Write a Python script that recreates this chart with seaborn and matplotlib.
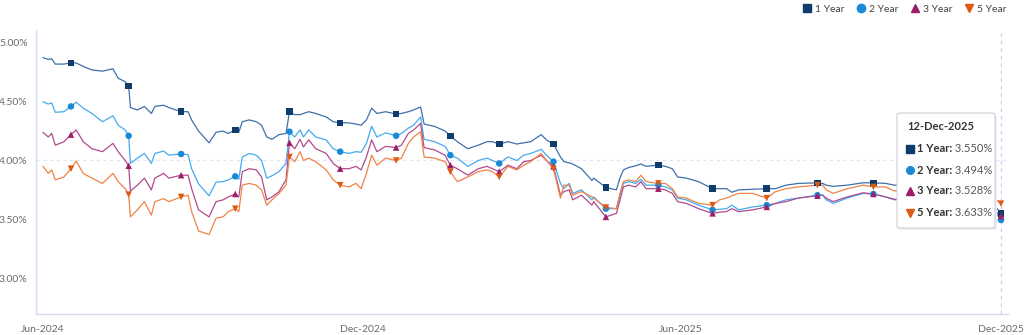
import matplotlib
matplotlib.use("Agg")
import matplotlib.pyplot as plt
from matplotlib.lines import Line2D
from matplotlib.patches import FancyBboxPatch
import seaborn as sns
import pandas as pd

# ---------------- data ----------------
dates = [
    "2024-06-12", "2024-06-15", "2024-06-17", "2024-06-19", "2024-06-24", "2024-06-28",
    "2024-07-01", "2024-07-05", "2024-07-10", "2024-07-16", "2024-07-22", "2024-07-25",
    "2024-07-29", "2024-07-31", "2024-08-01", "2024-08-05", "2024-08-09", "2024-08-13",
    "2024-08-15", "2024-08-20", "2024-08-23", "2024-08-30", "2024-09-03", "2024-09-05",
    "2024-09-09", "2024-09-15", "2024-09-19", "2024-09-23", "2024-09-26", "2024-09-30",
    "2024-10-02", "2024-10-04", "2024-10-08", "2024-10-12", "2024-10-15", "2024-10-18",
    "2024-10-21", "2024-10-25", "2024-10-29", "2024-10-31", "2024-11-03", "2024-11-06",
    "2024-11-08", "2024-11-11", "2024-11-15", "2024-11-21", "2024-11-25", "2024-11-29",
    "2024-12-04", "2024-12-08", "2024-12-11", "2024-12-14", "2024-12-17", "2024-12-20",
    "2024-12-25", "2024-12-31", "2025-01-03", "2025-01-07", "2025-01-10", "2025-01-14",
    "2025-01-16", "2025-01-22", "2025-01-28", "2025-01-31", "2025-02-04", "2025-02-10",
    "2025-02-16", "2025-02-21", "2025-02-24", "2025-02-28", "2025-03-05", "2025-03-10",
    "2025-03-14", "2025-03-18", "2025-03-24", "2025-03-27", "2025-03-31", "2025-04-04",
    "2025-04-06", "2025-04-09", "2025-04-11", "2025-04-16", "2025-04-22", "2025-04-23",
    "2025-04-30", "2025-05-06", "2025-05-08", "2025-05-10", "2025-05-13", "2025-05-17",
    "2025-05-20", "2025-05-23", "2025-05-30", "2025-06-03", "2025-06-07", "2025-06-10",
    "2025-06-15", "2025-06-22", "2025-06-30", "2025-07-04", "2025-07-08", "2025-07-11",
    "2025-07-15", "2025-07-23", "2025-07-31", "2025-08-05", "2025-08-11", "2025-08-18",
    "2025-08-29", "2025-09-01", "2025-09-03", "2025-09-07", "2025-09-15", "2025-09-24",
    "2025-09-30", "2025-10-07", "2025-10-12", "2025-10-20", "2025-10-31", "2025-11-14",
    "2025-11-28", "2025-12-05", "2025-12-08", "2025-12-12",
]

one_year = [
    4.875, 4.86, 4.865, 4.82, 4.82, 4.83,
    4.83, 4.80, 4.77, 4.76, 4.78, 4.70,
    4.67, 4.635, 4.45, 4.43, 4.46, 4.40,
    4.46, 4.47, 4.45, 4.415, 4.415, 4.345,
    4.25, 4.15, 4.24, 4.25, 4.23, 4.26,
    4.24, 4.33, 4.345, 4.33, 4.30, 4.20,
    4.18, 4.22, 4.23, 4.415, 4.39, 4.39,
    4.40, 4.415, 4.40, 4.37, 4.33, 4.32,
    4.32, 4.31, 4.30, 4.345, 4.445, 4.40,
    4.415, 4.395, 4.40, 4.415, 4.43, 4.455,
    4.31, 4.29, 4.25, 4.21, 4.16, 4.10,
    4.13, 4.16, 4.16, 4.14, 4.16, 4.14,
    4.15, 4.16, 4.22, 4.175, 4.14, 4.03,
    3.99, 3.98, 3.97, 3.93, 3.83, 3.85,
    3.77, 3.75, 3.85, 3.92, 3.94, 3.955,
    3.97, 3.95, 3.96, 3.95, 3.93, 3.86,
    3.85, 3.82, 3.76, 3.76, 3.76, 3.73,
    3.75, 3.755, 3.76, 3.76, 3.79, 3.805,
    3.81, 3.805, 3.79, 3.78, 3.79, 3.81,
    3.81, 3.805, 3.79, 3.79, 3.79, 3.79,
    3.78, 3.72, 3.62, 3.550,
]

two_year = [
    4.50, 4.48, 4.49, 4.41, 4.415, 4.46,
    4.495, 4.445, 4.40, 4.33, 4.38, 4.30,
    4.26, 4.21, 3.975, 4.02, 4.06, 3.975,
    4.06, 4.08, 4.045, 4.055, 4.05, 3.93,
    3.80, 3.70, 3.815, 3.82, 3.835, 3.865,
    3.84, 4.03, 4.06, 4.045, 4.00, 3.85,
    3.87, 3.905, 3.975, 4.245, 4.20, 4.26,
    4.20, 4.26, 4.20, 4.175, 4.10, 4.075,
    4.06, 4.075, 4.07, 4.145, 4.29, 4.20,
    4.235, 4.21, 4.23, 4.275, 4.30, 4.37,
    4.18, 4.16, 4.12, 4.045, 4.02, 3.95,
    4.00, 4.02, 4.00, 3.975, 4.03, 4.00,
    4.045, 4.06, 4.095, 4.045, 3.99, 3.805,
    3.76, 3.805, 3.72, 3.75, 3.665, 3.69,
    3.59, 3.59, 3.70, 3.805, 3.82, 3.805,
    3.84, 3.79, 3.79, 3.775, 3.75, 3.68,
    3.665, 3.62, 3.58, 3.585, 3.59, 3.62,
    3.58, 3.605, 3.62, 3.635, 3.665, 3.68,
    3.705, 3.705, 3.665, 3.635, 3.68, 3.72,
    3.715, 3.69, 3.665, 3.67, 3.67, 3.67,
    3.66, 3.62, 3.58, 3.494,
]

three_year = [
    4.24, 4.20, 4.23, 4.13, 4.16, 4.22,
    4.26, 4.16, 4.10, 4.075, 4.145, 4.075,
    4.00, 3.955, 3.74, 3.79, 3.85, 3.75,
    3.85, 3.89, 3.85, 3.875, 3.875, 3.76,
    3.58, 3.52, 3.65, 3.665, 3.69, 3.715,
    3.69, 3.905, 3.93, 3.92, 3.86, 3.665,
    3.69, 3.735, 3.835, 4.15, 4.10, 4.18,
    4.115, 4.175, 4.10, 4.06, 3.975, 3.93,
    3.93, 3.95, 3.92, 4.03, 4.175, 4.075,
    4.12, 4.11, 4.13, 4.23, 4.26, 4.315,
    4.11, 4.09, 4.045, 3.96, 3.93, 3.875,
    3.93, 3.95, 3.93, 3.905, 3.96, 3.93,
    3.99, 4.00, 4.045, 4.00, 3.95, 3.705,
    3.735, 3.75, 3.665, 3.705, 3.62, 3.65,
    3.52, 3.55, 3.66, 3.775, 3.79, 3.775,
    3.82, 3.76, 3.76, 3.75, 3.72, 3.65,
    3.635, 3.59, 3.55, 3.56, 3.565, 3.59,
    3.565, 3.58, 3.605, 3.635, 3.65, 3.68,
    3.70, 3.705, 3.68, 3.65, 3.69, 3.725,
    3.715, 3.69, 3.67, 3.68, 3.68, 3.68,
    3.67, 3.63, 3.58, 3.528,
]

five_year = [
    3.95, 3.89, 3.92, 3.835, 3.86, 3.93,
    3.995, 3.89, 3.85, 3.805, 3.89, 3.82,
    3.76, 3.71, 3.52, 3.58, 3.65, 3.535,
    3.65, 3.675, 3.65, 3.69, 3.705, 3.565,
    3.40, 3.37, 3.51, 3.52, 3.565, 3.59,
    3.565, 3.79, 3.805, 3.79, 3.75, 3.62,
    3.665, 3.72, 3.79, 4.03, 3.99, 4.075,
    4.00, 4.02, 3.99, 3.92, 3.835, 3.79,
    3.775, 3.805, 3.76, 3.89, 4.045, 3.96,
    4.02, 4.00, 4.02, 4.145, 4.20, 4.245,
    4.03, 4.02, 3.99, 3.905, 3.82, 3.86,
    3.905, 3.92, 3.905, 3.86, 3.95, 3.92,
    3.96, 3.99, 4.06, 4.00, 3.93, 3.68,
    3.79, 3.79, 3.705, 3.735, 3.69, 3.68,
    3.60, 3.59, 3.72, 3.82, 3.835, 3.82,
    3.875, 3.82, 3.805, 3.805, 3.76, 3.69,
    3.68, 3.635, 3.62, 3.665, 3.68, 3.70,
    3.72, 3.72, 3.68, 3.735, 3.76, 3.775,
    3.79, 3.79, 3.75, 3.72, 3.76, 3.79,
    3.775, 3.775, 3.74, 3.75, 3.75, 3.75,
    3.74, 3.70, 3.68, 3.633,
]

series_names = ["1 Year", "2 Year", "3 Year", "5 Year"]
tick_dates = ["2024-06-12", "2024-12-12", "2025-06-12", "2025-12-12"]
tick_labels = ["Jun-2024", "Dec-2024", "Jun-2025", "Dec-2025"]
y_ticks = [3.0, 3.5, 4.0, 4.5, 5.0]

# ---------------- styling ----------------
line_colors = ["#3f70aa", "#45aaf0", "#b24a8c", "#ee8447"]
marker_colors = ["#0e3d6b", "#1a8ad6", "#9a1f68", "#de5a14"]
marker_shapes = ["s", "o", "^", "v"]
axis_color = "#d6dbf5"
label_color = "#6b6b6b"

sns.set_theme(style="white")
plt.rcParams["font.family"] = ["Lato", "DejaVu Sans"]

for arr in (one_year, two_year, three_year, five_year):
    assert len(arr) == len(dates), len(arr)

df = pd.DataFrame({
    "date": pd.to_datetime(dates),
    "1 Year": one_year,
    "2 Year": two_year,
    "3 Year": three_year,
    "5 Year": five_year,
})
long = df.melt(id_vars="date", var_name="Tenor", value_name="Rate")

W, H = 1024, 335
fig = plt.figure(figsize=(W / 100, H / 100), dpi=100)
ax = fig.add_axes([36 / W, 21 / H, 972 / W, 284 / H])

line_pal = dict(zip(series_names, line_colors))
mark_pal = dict(zip(series_names, marker_colors))
mark_map = dict(zip(series_names, marker_shapes))

sns.lineplot(data=long, x="date", y="Rate", hue="Tenor", hue_order=series_names,
             palette=line_pal, linewidth=0.9, ax=ax, legend=False)

# markers at business month ends and at the last point
month_end = df["date"] == (df["date"] + pd.offsets.BMonthEnd(0))
month_end.iloc[-1] = True
mk = long[long["date"].isin(df.loc[month_end, "date"])]
sns.scatterplot(data=mk, x="date", y="Rate", hue="Tenor", style="Tenor",
                hue_order=series_names, style_order=series_names,
                palette=mark_pal, markers=mark_map, s=22, linewidth=0,
                ax=ax, legend=False, zorder=4)

# crosshair
last_date = df["date"].iloc[-1]
ax.axvline(last_date, color="#c9cdf0", lw=0.9, ls=(0, (3, 3)), zorder=1)
ax.axhline(4.0, color="#e1e3f7", lw=0.8, ls=(0, (3, 3)), zorder=1)

# axes
ax.set_xlim(pd.Timestamp("2024-06-08"), pd.Timestamp("2025-12-16"))
ax.set_ylim(2.694, 5.11)
ax.set_yticks(y_ticks)
ax.set_yticklabels([f"{v:.2f}%" for v in y_ticks])
ax.set_xticks(pd.to_datetime(tick_dates))
ax.set_xticklabels(tick_labels)
ax.set_xlabel("")
ax.set_ylabel("")
for s in ("top", "right"):
    ax.spines[s].set_visible(False)
for s in ("left", "bottom"):
    ax.spines[s].set_color(axis_color)
    ax.spines[s].set_linewidth(1.0)
ax.tick_params(axis="both", which="major", length=4, width=0.8, color=axis_color,
               labelsize=7.5, labelcolor=label_color)
ax.tick_params(axis="x", pad=4)
ax.tick_params(axis="y", pad=3, length=3)
ax.grid(False)

# legend (top right)
handles = [Line2D([0], [0], marker=m, color="none", markerfacecolor=c,
                  markeredgecolor=c, markersize=6, label=n)
           for n, c, m in zip(series_names, marker_colors, marker_shapes)]
fig.legend(handles=handles, loc="upper right", bbox_to_anchor=(1013 / W, 1.0 + 2 / H),
           ncol=4, frameon=False, fontsize=7.5, handlelength=0.9, handletextpad=0.35,
           columnspacing=1.1, labelcolor="#444444", borderaxespad=0.2)

# tooltip
def fx(px):
    return px / W

def fy(py):
    return (H - py) / H

shadow = FancyBboxPatch((fx(898), fy(230)), fx(996) - fx(897), fy(113) - fy(228),
                        boxstyle="round,pad=0,rounding_size=0.004",
                        transform=fig.transFigure, facecolor="#eeeef2",
                        edgecolor="none", zorder=9)
fig.add_artist(shadow)
box = FancyBboxPatch((fx(897), fy(228)), fx(995) - fx(897), fy(113) - fy(228),
                     boxstyle="round,pad=0,rounding_size=0.004",
                     transform=fig.transFigure, facecolor="white",
                     edgecolor="#cfcfd8", linewidth=0.8, zorder=10)
fig.add_artist(box)
fig.text(fx(907), fy(127), last_date.strftime("%d-%b-%Y"), fontsize=8,
         fontweight="bold", color="#333333", va="center", ha="left", zorder=11)
row_y = [149, 170, 191, 213]
last_vals = [one_year[-1], two_year[-1], three_year[-1], five_year[-1]]
for n, c, m, v, py in zip(series_names, marker_colors, marker_shapes, last_vals, row_y):
    fig.add_artist(Line2D([fx(910)], [fy(py)], marker=m, color="none",
                          markerfacecolor=c, markeredgecolor=c, markersize=5.5,
                          transform=fig.transFigure, zorder=11))
    t = fig.text(fx(917), fy(py), f"{n}:", fontsize=8, fontweight="bold",
                 color="#333333", va="center", ha="left", zorder=11)
    fig.add_artist(matplotlib.text.Annotation(
        f" {v:.3f}%", xy=(1, 0.5), xycoords=t, va="center", ha="left",
        fontsize=8, color="#555555", zorder=11))

fig.savefig("out.png", dpi=100, facecolor="white")
